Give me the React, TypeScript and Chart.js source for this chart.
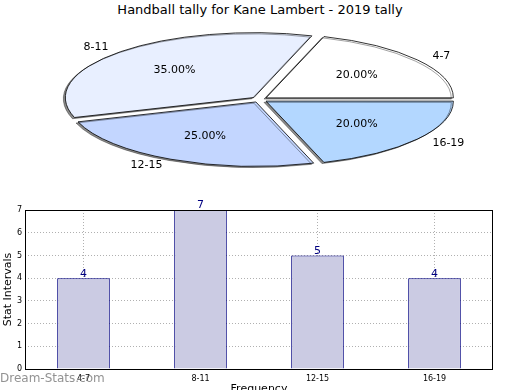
import React, { useEffect, useRef } from "react";
import { Chart, registerables } from "chart.js";

Chart.register(...registerables);

const title = "Handball tally for Kane Lambert - 2019 tally";
const categories = ["4-7", "8-11", "12-15", "16-19"];
const counts = [4, 7, 5, 4];
const sliceColors = ["#ffffff", "#e8efff", "#c3d6ff", "#b3d7ff"];
const yTickValues = [0, 1, 2, 3, 4, 5, 6, 7];
const yAxisTitle = "Stat Intervals";
const xAxisTitle = "Frequency";
const watermark = "Dream-Stats.com";

const FONT = "'DejaVu Sans', sans-serif";
const SQUASH = 0.344;
const PIE_RADIUS = 187;
const EXPLODE = 8;

const total = counts.reduce((a, b) => a + b, 0);

const ellipsePlugin = {
  id: "ellipsePie",
  beforeDatasetsDraw(chart: any) {
    const ctx = chart.ctx;
    const arc = chart.getDatasetMeta(0).data[0];
    const cy = arc.y;
    ctx.save();
    const base = ctx.getTransform();
    ctx.translate(0, cy);
    ctx.scale(1, SQUASH);
    ctx.translate(0, -cy);
    ctx.shadowColor = "rgba(0,0,0,0.45)";
    ctx.shadowOffsetX = -2;
    ctx.shadowOffsetY = 1.2;
    ctx.shadowBlur = 0;
    const orig = CanvasRenderingContext2D.prototype.stroke;
    ctx.stroke = function (...args: any[]) {
      this.save();
      this.setTransform(base);
      (orig as any).apply(this, args);
      this.restore();
    };
  },
  afterDatasetsDraw(chart: any) {
    const ctx = chart.ctx;
    delete ctx.stroke;
    ctx.restore();
    const meta = chart.getDatasetMeta(0);
    const labels: string[] = chart.data.labels;
    const values: number[] = chart.data.datasets[0].data;
    ctx.save();
    ctx.fillStyle = "#000";
    ctx.font = `11px ${FONT}`;
    ctx.textBaseline = "middle";
    meta.data.forEach((arc: any, i: number) => {
      const mid = (arc.startAngle + arc.endAngle) / 2;
      const c = Math.cos(mid);
      const s = Math.sin(mid);
      const R = arc.outerRadius;
      const pd = EXPLODE + 0.6 * R;
      ctx.textAlign = "center";
      ctx.fillText(
        ((values[i] / total) * 100).toFixed(2) + "%",
        arc.x + pd * c,
        arc.y + pd * s * SQUASH
      );
      const ld = EXPLODE + 1.1 * R;
      ctx.textAlign = c > 0 ? "left" : "right";
      ctx.fillText(labels[i], arc.x + ld * c, arc.y + ld * s * SQUASH);
    });
    ctx.restore();
  },
};

const frameAndValuesPlugin = {
  id: "frameValues",
  afterDraw(chart: any) {
    const ctx = chart.ctx;
    const a = chart.chartArea;
    ctx.save();
    ctx.strokeStyle = "#000";
    ctx.lineWidth = 1;
    ctx.strokeRect(Math.round(a.left) + 0.5, Math.round(a.top) + 0.5, Math.round(a.right - a.left) - 1, Math.round(a.bottom - a.top));
    const meta = chart.getDatasetMeta(0);
    const values: number[] = chart.data.datasets[0].data;
    ctx.fillStyle = "#000080";
    ctx.font = `11px ${FONT}`;
    ctx.textAlign = "center";
    ctx.textBaseline = "bottom";
    meta.data.forEach((bar: any, i: number) => {
      ctx.fillText(String(values[i]), bar.x, bar.y + 1);
    });
    ctx.restore();
  },
};

export default function App() {
  const pieRef = useRef<HTMLCanvasElement>(null);
  const barRef = useRef<HTMLCanvasElement>(null);

  useEffect(() => {
    document.body.style.margin = "0";
    // reverse so that slices run counter-clockwise from east, as in the reference
    const pieLabels = [...categories].reverse();
    const pieValues = [...counts].reverse();
    const pieColors = [...sliceColors].reverse();

    const pie = new Chart(pieRef.current!, {
      type: "pie",
      data: {
        labels: pieLabels,
        datasets: [
          {
            data: pieValues,
            backgroundColor: pieColors,
            borderColor: "#000",
            borderWidth: 0.8,
            offset: EXPLODE * 4,
            radius: PIE_RADIUS,
            clip: false,
          } as any,
        ],
      },
      options: {
        animation: false,
        responsive: false,
        maintainAspectRatio: false,
        rotation: 90,
        layout: { padding: { left: 0, right: 1, top: 0, bottom: 1 } },
        plugins: { legend: { display: false }, tooltip: { enabled: false } },
      } as any,
      plugins: [ellipsePlugin],
    });

    const bar = new Chart(barRef.current!, {
      type: "bar",
      data: {
        labels: categories,
        datasets: [
          {
            data: counts,
            backgroundColor: "#cbcbe3",
            borderColor: "#000080",
            borderWidth: 1,
            barPercentage: 0.45,
            categoryPercentage: 1,
          },
        ],
      },
      options: {
        animation: false,
        responsive: false,
        maintainAspectRatio: false,
        layout: { padding: { left: 0, right: 27, top: 10, bottom: 0 } },
        plugins: { legend: { display: false }, tooltip: { enabled: false } },
        scales: {
          x: {
            z: 1,
            grid: { color: "#b0b0b0", lineWidth: 1, drawTicks: false, offset: false },
            border: { display: false, dash: [1, 2] },
            ticks: { font: { family: FONT, size: 8 }, color: "#000", padding: 5, maxRotation: 0 },
            title: { display: true, text: xAxisTitle, font: { family: FONT, size: 11 }, color: "#000", padding: 0 },
            afterFit: (s: any) => {
              s.height = 27;
            },
          },
          y: {
            z: 1,
            min: yTickValues[0],
            max: yTickValues[yTickValues.length - 1],
            grid: { color: "#b0b0b0", lineWidth: 1, drawTicks: false },
            border: { display: false, dash: [1, 2] },
            ticks: { stepSize: 1, font: { family: FONT, size: 8 }, color: "#000", padding: 3 },
            title: { display: true, text: yAxisTitle, font: { family: FONT, size: 11 }, color: "#000", padding: { top: 2, bottom: 0 } },
            afterFit: (s: any) => {
              s.width = 25;
            },
          },
        },
      } as any,
      plugins: [frameAndValuesPlugin],
    });

    return () => {
      pie.destroy();
      bar.destroy();
    };
  }, []);

  return (
    <div style={{ position: "absolute", left: 0, top: 0, width: 520, height: 390, overflow: "hidden", background: "#fff" }}>
      <div style={{ position: "absolute", left: 0, top: 2, width: 520, textAlign: "center", font: `13px ${FONT}`, color: "#000" }}>{title}</div>
      <canvas ref={pieRef} width={520} height={200} style={{ position: "absolute", left: 0, top: 0, width: 520, height: 200 }} />
      <canvas ref={barRef} width={520} height={196} style={{ position: "absolute", left: 0, top: 200, width: 520, height: 196 }} />
      <div style={{ position: "absolute", left: 0, top: 371, font: `12px ${FONT}`, color: "rgba(110,110,110,0.75)", whiteSpace: "nowrap" }}>{watermark}</div>
    </div>
  );
}
